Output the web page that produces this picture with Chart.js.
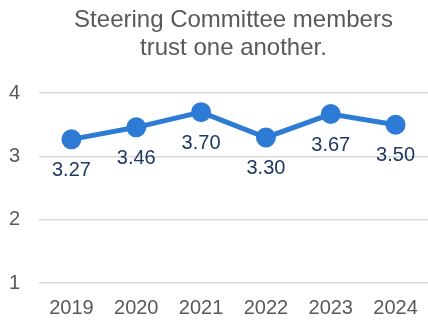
<!DOCTYPE html>
<html>
<head>
<meta charset="utf-8">
<script src="https://cdn.jsdelivr.net/npm/chart.js@4"></script>
<style>
  html, body { margin: 0; padding: 0; background: #fff; }
  #wrap { width: 428px; height: 322px; }
</style>
</head>
<body>
<div id="wrap"><canvas id="chart"></canvas></div>
<script>
const years = ["2019", "2020", "2021", "2022", "2023", "2024"];
const scores = [3.27, 3.46, 3.70, 3.30, 3.67, 3.50];
const yTicks = [1, 2, 3, 4];

const grey = "#595959";
const fontFamily = "'Liberation Sans', Arial, sans-serif";

// value labels under each point
const pointLabels = {
  id: "pointLabels",
  afterDatasetsDraw(chart) {
    const ctx = chart.ctx;
    const meta = chart.getDatasetMeta(0);
    ctx.save();
    ctx.font = "20px " + fontFamily;
    ctx.fillStyle = "#1F3864";
    ctx.textAlign = "center";
    ctx.textBaseline = "middle";
    meta.data.forEach((pt, i) => {
      ctx.fillText(scores[i].toFixed(2), pt.x, pt.y + 31);
    });
    ctx.restore();
  }
};

const chart = new Chart(document.getElementById("chart").getContext("2d"), {
  type: "line",
  data: {
    labels: years,
    datasets: [
      {
        data: scores,
        borderColor: "#2E7BD6",
        backgroundColor: "#2E7BD6",
        borderWidth: 5,
        pointRadius: 7.5,
        pointHoverRadius: 7.5,
        fill: false,
        tension: 0,
      },
    ],
  },
  options: {
    responsive: true,
    maintainAspectRatio: false,
    animation: false,
    // plot runs slightly past the right edge, gridlines get clipped there
    layout: { autoPadding: false, padding: { left: 9, right: -3, top: 0, bottom: 2 } },
    plugins: {
      legend: { display: false },
      tooltip: { enabled: false },
      title: {
        display: true,
        fullSize: false,
        text: ["Steering Committee members", "trust one another."],
        color: grey,
        font: { family: fontFamily, size: 24, weight: "normal", lineHeight: 1.17 },
        padding: { top: 6, bottom: 31 },
      },
    },
    scales: {
      x: {
        offset: true,
        grid: { display: false, drawTicks: false },
        border: { display: false },
        ticks: {
          color: grey,
          font: { family: fontFamily, size: 20 },
          padding: 13,
        },
        // padding is counted twice by fit(); pin the axis size instead
        afterFit(axis) {
          axis.height = 37;
          axis.paddingLeft = 0;
          axis.paddingRight = 0;
        },
      },
      y: {
        min: yTicks[0],
        max: yTicks[yTicks.length - 1],
        afterBuildTicks(axis) {
          axis.ticks = yTicks.map((v) => ({ value: v }));
        },
        grid: { color: "#D9D9D9", lineWidth: 1.5, drawTicks: false },
        border: { display: false },
        ticks: {
          color: grey,
          font: { family: fontFamily, size: 20 },
          padding: 19,
        },
        afterFit(axis) {
          axis.width = 30;
        },
      },
    },
  },
  plugins: [pointLabels],
});
</script>
</body>
</html>
